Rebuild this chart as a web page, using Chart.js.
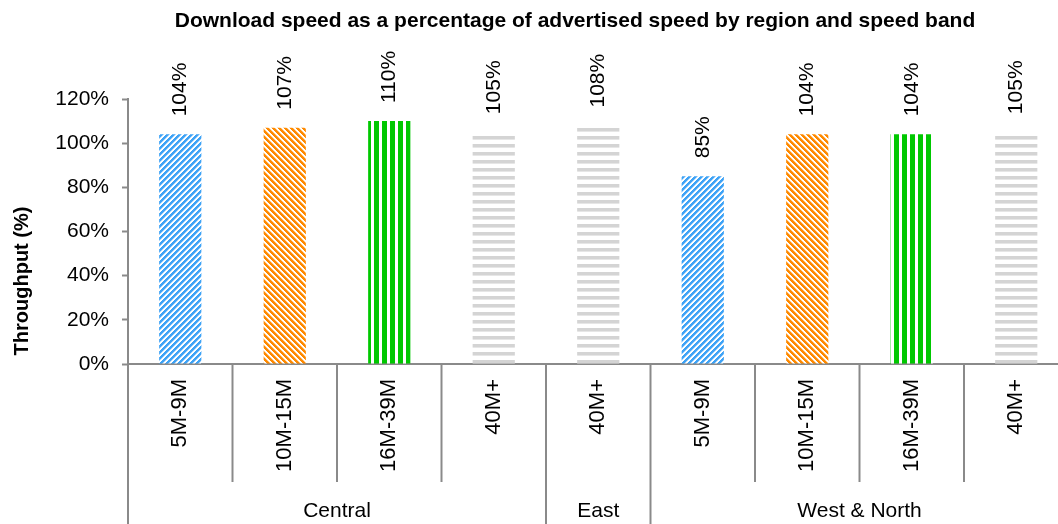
<!DOCTYPE html>
<html><head><meta charset="utf-8">
<script src="https://cdn.jsdelivr.net/npm/chart.js@4.4.1/dist/chart.umd.min.js"></script>
<style>
html,body{margin:0;padding:0;background:#fff;overflow:hidden;}
#wrap{width:1058px;height:524px;overflow:hidden;position:relative;}
#box{width:1072px;height:524px;position:absolute;left:0;top:0;}
</style></head><body>
<div id="wrap"><div id="box"><canvas id="c"></canvas></div></div>
<script>
const chartTitle = 'Download speed as a percentage of advertised speed by region and speed band';
const yAxisTitle = 'Throughput (%)';
const speedBands = ['5M-9M','10M-15M','16M-39M','40M+','40M+','5M-9M','10M-15M','16M-39M','40M+'];
const regions = ['Central','East','West & North'];
const regionSizes = [4,1,4];
const throughput = [104,107,110,105,108,85,104,104,105];
const yMin = 0, yMax = 120, yStep = 20;

const FONT = '"Liberation Sans", Arial, sans-serif';
const AXIS_COLOR = '#8a8a8a';

function tile(w, h, fn, color, color2){
  const t = document.createElement('canvas'); t.width = w; t.height = h;
  const g = t.getContext('2d');
  g.fillStyle = '#fff'; g.fillRect(0,0,w,h);
  for (let y=0;y<h;y++) for (let x=0;x<w;x++){
    const v = fn(x,y);
    if (v===1){ g.fillStyle=color; g.fillRect(x,y,1,1); }
    else if (v===2){ g.fillStyle=color2; g.fillRect(x,y,1,1); }
  }
  return t;
}
const ctx0 = document.getElementById('c').getContext('2d');
const patterns = {
  '5M-9M': ctx0.createPattern(tile(6,6,(x,y)=>((x+y)%6<3?1:((x+y)%6===3?2:0)),'#3ea3f6','#a9d4fb'),'repeat'),
  '10M-15M': ctx0.createPattern(tile(6,6,(x,y)=>(((x-y)%6+6)%6<3?1:((((x-y)%6+6)%6)===3?2:0)),'#ff8a00','#ffc98a'),'repeat'),
  '16M-39M': ctx0.createPattern(tile(8,1,(x)=>([6,7,0,1,2].includes(x%8)?1:0),'#00c800'),'repeat'),
  '40M+': ctx0.createPattern(tile(1,8,(x,y)=>(y%8<3?1:(y%8===3?2:0)),'#d4d4d4','#e6e6e6'),'repeat')
};

Chart.defaults.color = '#000';
Chart.defaults.font.family = FONT;

const decor = {
  id: 'decor',
  afterDraw(chart){
    const {ctx, chartArea:a, scales:{x}} = chart;
    const n = speedBands.length;
    const w = x.getPixelForValue(1) - x.getPixelForValue(0);
    const bounds = [];
    for (let i=0;i<=n;i++) bounds.push(x.getPixelForValue(0) - w/2 + i*w);
    const edges = new Set([0]); let acc = 0;
    regionSizes.forEach(s=>{acc+=s; edges.add(acc);});
    ctx.save();
    ctx.strokeStyle = AXIS_COLOR; ctx.lineWidth = 2;
    bounds.forEach((bx,i)=>{
      ctx.beginPath(); ctx.moveTo(bx, a.bottom);
      ctx.lineTo(bx, edges.has(i) ? chart.height : a.bottom + 118);
      ctx.stroke();
    });
    ctx.fillStyle = '#000';
    ctx.font = '21px ' + FONT; ctx.textAlign = 'center'; ctx.textBaseline = 'middle';
    let s = 0;
    regions.forEach((r,k)=>{
      const cx = (bounds[s] + bounds[s+regionSizes[k]]) / 2;
      ctx.fillText(r, cx, 511);
      s += regionSizes[k];
    });
    const meta = chart.getDatasetMeta(0);
    ctx.font = '21px ' + FONT;
    meta.data.forEach((bar,i)=>{
      ctx.save(); ctx.translate(bar.x, bar.y - 18); ctx.rotate(-Math.PI/2);
      ctx.textAlign = 'left'; ctx.textBaseline = 'middle';
      ctx.fillText(Math.round(throughput[i]) + '%', 0, 0);
      ctx.restore();
    });
    ctx.font = 'bold 21px ' + FONT; ctx.textAlign = 'center';
    ctx.fillText(chartTitle, 575, 21);
    ctx.font = 'bold 20px ' + FONT;
    ctx.save(); ctx.translate(22, 281); ctx.rotate(-Math.PI/2);
    ctx.fillText(yAxisTitle, 0, 0);
    ctx.restore();
    ctx.restore();
  }
};

new Chart(document.getElementById('c'), {
  type: 'bar',
  data: {
    labels: speedBands,
    datasets: [{
      data: throughput,
      backgroundColor: speedBands.map(b => patterns[b]),
      borderWidth: 0,
      barPercentage: 0.404,
      categoryPercentage: 1
    }]
  },
  options: {
    responsive: true, maintainAspectRatio: false, animation: false,
    layout: { padding: { top: 99, right: 3.5, left: 0, bottom: 0 } },
    plugins: { legend: { display: false }, tooltip: { enabled: false }, title: { display: false } },
    scales: {
      x: {
        afterFit(s){ s.height = 160; },
        grid: { display: true, drawOnChartArea: false, drawTicks: false },
        border: { display: true, color: AXIS_COLOR, width: 2 },
        ticks: { autoSkip: false, minRotation: 90, maxRotation: 90, padding: 15, color: '#000', font: { size: 22 } }
      },
      y: {
        min: yMin, max: yMax,
        afterFit(s){ s.width = 128; },
        grid: { display: true, drawOnChartArea: false, drawTicks: true, tickLength: 6, tickColor: AXIS_COLOR, tickWidth: 2 },
        border: { display: true, color: AXIS_COLOR, width: 2 },
        ticks: { stepSize: yStep, padding: 13, color: '#000', font: { size: 21 }, callback: v => v + '%' }
      }
    }
  },
  plugins: [decor]
});
</script>
</body></html>
